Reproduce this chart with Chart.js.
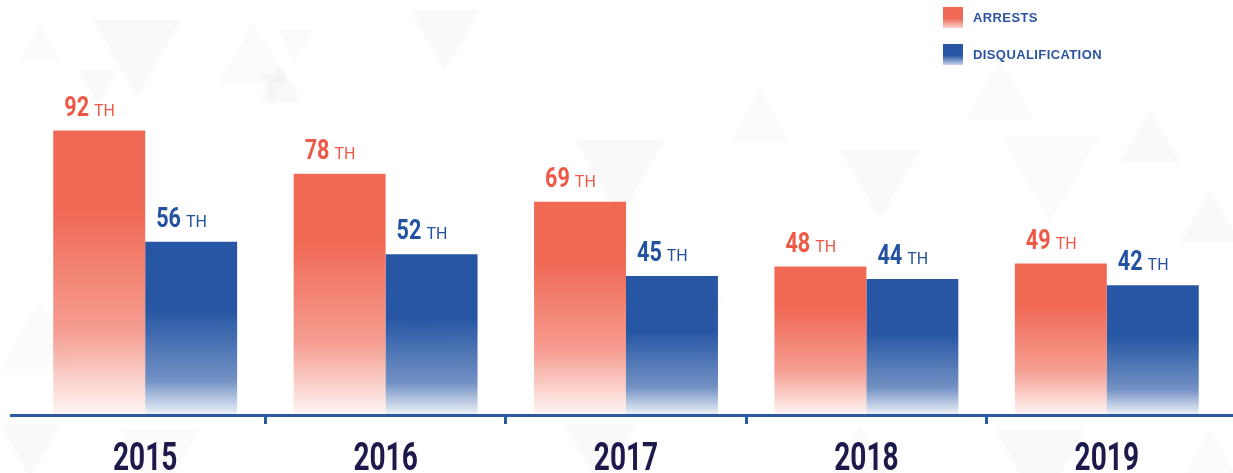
<!DOCTYPE html>
<html lang="en">
<head>
  <meta charset="UTF-8" />
  <title>Arrests and Disqualification</title>
  <script src="https://cdn.jsdelivr.net/npm/chart.js"></script>
  <style>
    html, body {
      margin: 0;
      padding: 0;
      background: #fff;
    }
    #wrap {
      width: 1233px;
      height: 473px;
      position: relative;
    }
  </style>
</head>
<body>
  <div id="wrap"><canvas id="chart"></canvas></div>

  <script>
    // data (thousands)
    const years = ['2015', '2016', '2017', '2018', '2019'];
    const arrests = [92, 78, 69, 48, 49];
    const disqualification = [56, 52, 45, 44, 42];
    const seriesNames = ['ARRESTS', 'DISQUALIFICATION'];
    const unitSuffix = 'TH';

    const RED = '#f06955';
    const BLUE = '#2757a4';
    const AXIS_BLUE = '#2a5aa2';
    const FONT = "Roboto, 'DejaVu Sans', sans-serif";

    // faint background triangles, just decoration: [cx, top, size, pointsDown]
    const bgTriangles = [
      [137, 20, 88, 1], [40, 26, 40, 0], [98, 70, 40, 1], [253, 22, 70, 0], [280, 64, 44, 0],
      [295, 30, 36, 1], [445, 10, 70, 1], [272, 75, 30, 1], [620, 140, 90, 1], [760, 90, 60, 0],
      [880, 150, 80, 1], [1000, 60, 70, 0], [1150, 110, 60, 0], [1050, 135, 100, 1], [1210, 190, 60, 0],
      [40, 300, 80, 0], [30, 425, 60, 1], [160, 430, 80, 1], [600, 425, 70, 1], [860, 425, 60, 0],
      [1040, 430, 90, 1], [1210, 430, 60, 0], [420, 300, 60, 0], [700, 300, 50, 1]
    ];

    // per-bar vertical fade: solid at the top, almost white at the base
    function barFill(solid, stops) {
      return function (c) {
        const ch = c.chart;
        if (!ch.chartArea || c.type !== 'data') return solid;
        const ys = ch.scales.y;
        const top = ys.getPixelForValue(c.raw);
        const base = ys.getPixelForValue(0);
        const g = ch.ctx.createLinearGradient(0, top, 0, base);
        stops.forEach(([p, col]) => g.addColorStop(p, col));
        return g;
      };
    }

    // draw text squeezed horizontally, the source uses a condensed face
    function narrowText(c, text, x, y, sx) {
      c.save();
      c.translate(x, y);
      c.scale(sx, 1);
      c.fillText(text, 0, 0);
      c.restore();
      return c.measureText(text).width * sx;
    }

    const backdrop = {
      id: 'backdrop',
      beforeDraw(chart) {
        const c = chart.ctx;
        c.save();
        c.fillStyle = '#fff';
        c.fillRect(0, 0, chart.width, chart.height);
        bgTriangles.forEach(([cx, top, s, down], i) => {
          const h = s * 0.87;
          c.fillStyle = i % 2 ? 'rgba(0,0,0,0.016)' : 'rgba(0,0,0,0.024)';
          c.beginPath();
          if (down) {
            c.moveTo(cx - s / 2, top);
            c.lineTo(cx + s / 2, top);
            c.lineTo(cx, top + h);
          } else {
            c.moveTo(cx, top);
            c.lineTo(cx + s / 2, top + h);
            c.lineTo(cx - s / 2, top + h);
          }
          c.closePath();
          c.fill();
        });
        c.restore();
      }
    };

    const valueLabels = {
      id: 'valueLabels',
      afterDatasetsDraw(chart) {
        const c = chart.ctx;
        c.save();
        c.textBaseline = 'alphabetic';
        c.textAlign = 'left';
        chart.data.datasets.forEach((ds, di) => {
          const meta = chart.getDatasetMeta(di);
          const col = di === 0 ? '#ee5847' : '#2352a0';
          meta.data.forEach((bar, i) => {
            const x = bar.x - bar.width / 2 + 11;
            const y = bar.y - 15;
            c.fillStyle = col;
            c.font = 'bold 27px ' + FONT;
            const w = narrowText(c, String(ds.data[i]), x, y, 0.8);
            c.font = '16px ' + FONT;
            c.fillText(unitSuffix, x + w + 5, y);
          });
        });
        c.restore();
      }
    };

    const axisExtras = {
      id: 'axisExtras',
      afterDraw(chart) {
        const c = chart.ctx;
        const xs = chart.scales.x;
        const area = chart.chartArea;
        c.save();
        // axis line runs a bit past the plot on both sides
        c.fillStyle = AXIS_BLUE;
        c.fillRect(10, area.bottom - 1, area.left - 10, 3);
        c.fillRect(area.right, area.bottom - 1, chart.width - area.right, 3);
        // year labels in a condensed bold face
        c.fillStyle = '#1c1a4b';
        c.font = 'bold 39px ' + FONT;
        c.textAlign = 'center';
        c.textBaseline = 'alphabetic';
        xs.ticks.forEach((t, i) => {
          narrowText(c, years[i], xs.getPixelForTick(i), area.bottom + 55, 0.72);
        });
        c.restore();
      }
    };

    const sideLegend = {
      id: 'sideLegend',
      afterDraw(chart) {
        const c = chart.ctx;
        c.save();
        const items = [[RED, '#fbd3cb'], [BLUE, '#c9d4e8']];
        items.forEach(([solid, pale], i) => {
          const top = 7 + i * 37;
          const g = c.createLinearGradient(0, top, 0, top + 21);
          g.addColorStop(0, solid);
          g.addColorStop(0.55, solid);
          g.addColorStop(1, pale);
          c.fillStyle = g;
          c.fillRect(943, top, 20, 21);
          c.font = "bold 13px 'Liberation Sans', Arial, sans-serif";
          c.letterSpacing = '0.4px';
          c.fillStyle = '#2a55a3';
          c.textBaseline = 'middle';
          c.fillText(seriesNames[i], 973, top + 11);
        });
        c.restore();
      }
    };

    new Chart(document.getElementById('chart'), {
      type: 'bar',
      data: {
        labels: years,
        datasets: [
          {
            label: seriesNames[0],
            data: arrests,
            backgroundColor: barFill(RED, [
              [0, RED], [0.28, RED], [0.7, 'rgba(240,105,85,0.65)'], [1, 'rgba(240,105,85,0.06)']
            ]),
            borderWidth: 0,
            categoryPercentage: 0.765,
            barPercentage: 1
          },
          {
            label: seriesNames[1],
            data: disqualification,
            backgroundColor: barFill(BLUE, [
              [0, BLUE], [0.4, BLUE], [0.8, 'rgba(39,87,164,0.65)'], [1, 'rgba(39,87,164,0.07)']
            ]),
            borderWidth: 0,
            categoryPercentage: 0.765,
            barPercentage: 1
          }
        ]
      },
      options: {
        responsive: true,
        maintainAspectRatio: false,
        animation: false,
        layout: { padding: { left: 25, right: 6, top: 44, bottom: 0 } },
        plugins: {
          legend: { display: false },
          tooltip: { enabled: false }
        },
        scales: {
          x: {
            afterFit(scale) { scale.height = 58; },
            grid: {
              offset: true,
              drawOnChartArea: false,
              drawTicks: true,
              tickLength: 9,
              tickWidth: 3,
              tickColor: (c) => (c.index > 0 ? AXIS_BLUE : 'transparent')
            },
            border: { display: true, color: AXIS_BLUE, width: 3 },
            ticks: {
              color: 'transparent',
              padding: 6,
              font: { family: FONT, size: 20, weight: 'bold', lineHeight: 1 }
            }
          },
          y: {
            display: false,
            min: 0,
            max: 120
          }
        }
      },
      plugins: [backdrop, valueLabels, axisExtras, sideLegend]
    });
  </script>
</body>
</html>
